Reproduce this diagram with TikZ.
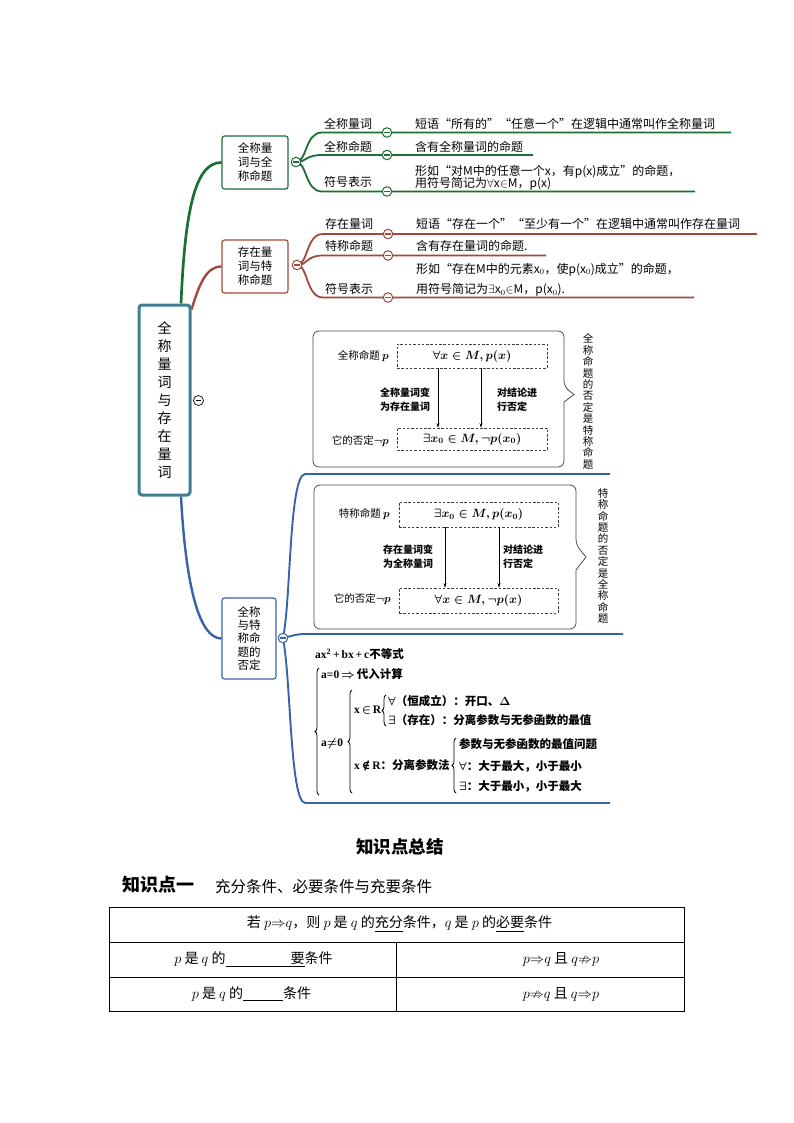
\documentclass[tikz,border=0pt]{standalone}
\usepackage{amsmath,amssymb}
\usepackage{fontspec}
\setmainfont{Noto Sans CJK SC}
\newfontfamily\tnr{Liberation Serif}
\newfontfamily\djv{DejaVu Serif}
\usetikzlibrary{decorations.pathreplacing,arrows.meta}
\pgfdeclarelayer{back}
\pgfdeclarelayer{bg}
\pgfsetlayers{back,bg,main}
\definecolor{gcol}{HTML}{1B6E36}
\definecolor{rcol}{HTML}{A3493B}
\definecolor{bcol}{HTML}{3A62A9}
\definecolor{tcol}{HTML}{3F7E93}
\tikzset{
  cbtn/.style={circle, draw=#1, fill=white, minimum size=9.5pt, inner sep=0pt, line width=1pt,
    path picture={\draw[#1, line width=1.1pt] ([xshift=-2.6pt]path picture bounding box.center) -- ([xshift=2.6pt]path picture bounding box.center);}},
  rootbox/.style={draw=tcol, line width=3pt, rounded corners=3pt, fill=white, align=center, inner sep=0pt, font=\fontsize{14}{18}\selectfont},
  topic/.style={draw=#1, line width=1.2pt, rounded corners=2.5pt, fill=white, align=center, inner sep=0pt, font=\fontsize{11.5}{14}\selectfont},
  lbl/.style={anchor=base west, inner sep=0pt, font=\fontsize{12}{14}\selectfont},
  desc/.style={anchor=base west, inner sep=0pt, font=\fontsize{12}{14}\selectfont},
  gline/.style={draw=gcol, line width=1.8pt},
  rline/.style={draw=rcol, line width=1.8pt},
  bline/.style={draw=bcol, line width=1.9pt},
  frame/.style={draw=black!70, line width=0.8pt},
  dbox/.style={draw=black!75, dash pattern=on 2.5pt off 1.8pt, line width=0.6pt, inner sep=0pt, font=\fontsize{11.5}{13}\selectfont\boldmath},
  blab/.style={inner sep=0pt, font=\fontsize{10.5}{13}\selectfont},
  klab/.style={anchor=west, align=left, inner sep=0pt, font=\bfseries\fontsize{10}{14}\selectfont},
  vtext/.style={align=center, inner sep=0pt, font=\fontsize{10.5}{11.4}\selectfont},
  arr/.style={-{Stealth[length=4.5pt,width=3pt]}, line width=0.6pt},
  ineq/.style={anchor=west, inner sep=0pt, font=\bfseries\fontsize{11.5}{13}\selectfont},
  brc/.style={decorate, decoration={brace, amplitude=4pt}, line width=0.8pt},
  cell/.style={inner sep=0pt, font=\fontsize{14}{16}\selectfont},
}
\begin{document}
\begin{tikzpicture}[x=1pt,y=-1pt]
\useasboundingbox (0,0) rectangle (794,1123);
\begin{pgfonlayer}{back}
\fill[white] (0,0) rectangle (794,1123);
\end{pgfonlayer}

% ---------- root and topics ----------
\node[rootbox, minimum width=51pt, minimum height=190pt] (root) at (164.5,400) {全\\称\\量\\词\\与\\存\\在\\量\\词};
\node[cbtn=black, line width=0.7pt, minimum size=10pt] (rootb) at (198.5,400.5) {};

\node[topic=gcol, minimum width=66pt, minimum height=53pt] (gt) at (255,162.5) {全称量\\词与全\\称命题};
\node[topic=rcol, minimum width=66pt, minimum height=53pt] (rt) at (255,266.5) {存在量\\词与特\\称命题};
\node[topic=bcol, minimum width=54pt, minimum height=81pt, font=\fontsize{11.5}{13.3}\selectfont] (bt) at (249,638.5) {全称\\与特\\称命\\题的\\否定};

\node[cbtn=gcol] (gb) at (296,162) {};
\node[cbtn=rcol] (rb) at (297,265) {};
\node[cbtn=bcol] (bb) at (283,638) {};

\node[cbtn=gcol] (g1b) at (387,132.5) {};
\node[cbtn=gcol] (g2b) at (387,155) {};
\node[cbtn=gcol] (g3b) at (387,191.5) {};
\node[cbtn=rcol] (r1b) at (388,234) {};
\node[cbtn=rcol] (r2b) at (388,255.5) {};
\node[cbtn=rcol] (r3b) at (388,297.5) {};

\coordinate (g1e) at (731,132.5);
\coordinate (g2e) at (533,155);
\coordinate (g3e) at (695,191.5);
\coordinate (r1e) at (757,234);
\coordinate (r2e) at (546,255.5);
\coordinate (r3e) at (694,297.5);
\coordinate (b1e) at (610,474);
\coordinate (b2e) at (623,634);
\coordinate (b3e) at (610,803);

\begin{pgfonlayer}{bg}
\draw[gcol, line width=2.7pt] ([xshift=16.5pt]root.north) .. controls (185,210) and (195,162.5) .. (gt.west);
\draw[rcol, line width=2.4pt] ([yshift=-6pt]root.north east) .. controls (199,285) and (206,266.5) .. (rt.west);
\draw[bcol, line width=2.4pt] ([xshift=16.5pt]root.south) .. controls (186,590) and (200,638.5) .. (bt.west);

\draw[gline] (gb.center) .. controls (307,162) and (305,132.5) .. (322,132.5) -- (g1b.center) -- (g1e);
\draw[gline] (gb.center) .. controls (307,162) and (305,155) .. (322,155) -- (g2b.center) -- (g2e);
\draw[gline] (gb.center) .. controls (307,162) and (305,191.5) .. (322,191.5) -- (g3b.center) -- (g3e);

\draw[rline] (rb.center) .. controls (308,265) and (306,234) .. (323,234) -- (r1b.center) -- (r1e);
\draw[rline] (rb.center) .. controls (308,265) and (306,255.5) .. (323,255.5) -- (r2b.center) -- (r2e);
\draw[rline] (rb.center) .. controls (308,265) and (306,297.5) .. (323,297.5) -- (r3b.center) -- (r3e);

\draw[bline] (bb.center) .. controls (291,600) and (289,476) .. (305,474) -- (b1e);
\draw[bline] (bb.center) .. controls (292,636) and (296,634) .. (305,634) -- (b2e);
\draw[bline] (bb.center) .. controls (291,680) and (290,801) .. (305,803) -- (b3e);
\end{pgfonlayer}

% ---------- green rows ----------
\node[lbl] (g1l) at (324,128.5) {全称量词};
\node[desc] (g1d) at (415,128.5) {短语“所有的”“任意一个”在逻辑中通常叫作全称量词};
\node[lbl] (g2l) at (324,151.5) {全称命题};
\node[desc] (g2d) at (415,151.5) {含有全称量词的命题};
\node[lbl] (g3l) at (324,187) {符号表示};
\node[desc] (g3d) at (415,175.5) {形如“对M中的任意一个x，有p(x)成立”的命题，};
\node[desc] (g3f) at (415,187.5) {用符号简记为$\forall$x$\in$M，p(x)};

% ---------- red rows ----------
\node[lbl] (r1l) at (325,229) {存在量词};
\node[desc] (r1d) at (416,229) {短语“存在一个”“至少有一个”在逻辑中通常叫作存在量词};
\node[lbl] (r2l) at (325,250.5) {特称命题};
\node[desc] (r2d) at (416,250.5) {含有存在量词的命题.};
\node[lbl] (r3l) at (325,293.5) {符号表示};
\node[desc] (r3d) at (416,273) {形如“存在M中的元素x$_0$，使p(x$_0$)成立”的命题，};
\node[desc] (r3f) at (416,293.5) {用符号简记为$\exists$x$_0$$\in$M，p(x$_0$).};

% ---------- box 1 ----------
\draw[frame, rounded corners=6pt] (313,331) -- (564,331) -- (564,387) [sharp corners] -- (574,394.5) -- (564,402) [rounded corners=6pt] -- (564,467) -- (313,467) -- cycle;
\node[dbox, minimum width=150pt, minimum height=24pt] (a1) at (472,356) {$\forall x\in M, p(x)$};
\node[dbox, minimum width=150pt, minimum height=22pt] (a2) at (472,439) {$\exists x_0\in M, \neg p(x_0)$};
\node[blab, anchor=east] (a1l) at (389,356) {全称命题 $\boldsymbol{p}$};
\node[blab, anchor=east] (a2l) at (389,441) {它的否定$\boldsymbol{\neg p}$};
\draw[arr] ([xshift=-34pt]a1.south) -- ([xshift=-34pt]a2.north);
\draw[arr] ([xshift=9pt]a1.south) -- ([xshift=9pt]a2.north);
\node[klab] (a1k) at (380,400) {全称量词变\\为存在量词};
\node[klab] (a1m) at (497,400) {对结论进\\行否定};
\node[vtext] (a1v) at (588,401.5) {全\\称\\命\\题\\的\\否\\定\\是\\特\\称\\命\\题};

% ---------- box 2 ----------
\draw[frame, rounded corners=6pt] (314,485) -- (576,485) -- (576,545) [sharp corners] -- (586,557) -- (576,570) [rounded corners=6pt] -- (576,629) -- (314,629) -- cycle;
\node[dbox, minimum width=159pt, minimum height=25pt] (c1) at (478.5,514.5) {$\exists x_0\in M, p(x_0)$};
\node[dbox, minimum width=159pt, minimum height=25pt] (c2) at (478.5,600.5) {$\forall x\in M, \neg p(x)$};
\node[blab, anchor=east] (c1l) at (390,514) {特称命题 $\boldsymbol{p}$};
\node[blab, anchor=east] (c2l) at (391,599) {它的否定$\boldsymbol{\neg p}$};
\draw[arr] ([xshift=-33.5pt]c1.south) -- ([xshift=-33.5pt]c2.north);
\draw[arr] ([xshift=20.5pt]c1.south) -- ([xshift=20.5pt]c2.north);
\node[klab] (c1k) at (383,557) {存在量词变\\为全称量词};
\node[klab] (c1m) at (503,557) {对结论进\\行否定};
\node[vtext] (c1v) at (603,556) {特\\称\\命\\题\\的\\否\\定\\是\\全\\称\\命\\题};

% ---------- inequality ----------
\node[ineq] (q0) at (315,654) {{\tnr ax\textsuperscript{2}\,+\,bx\,+\,c}不等式};
\draw[brc] (319,795) -- (319,668);
\node[ineq] (q1) at (321,674) {{\tnr a=0}\,{\boldmath$\Rightarrow$}\,代入计算};
\node[ineq] (q2) at (321,743) {{\tnr a}{\boldmath$\neq$}{\tnr 0}};
\draw[brc] (352,793) -- (352,690);
\node[ineq] (q3) at (354,710) {{\tnr x}\,{\boldmath$\in$}\,{\tnr R}};
\draw[brc] (386,726) -- (386,695);
\node[ineq] (q4) at (388,701) {{\boldmath$\forall$}（恒成立）：开口、{\boldmath$\Delta$}};
\node[ineq] (q5) at (388,720) {{\boldmath$\exists$}（存在）：分离参数与无参函数的最值};
\node[ineq] (q6) at (354,765) {{\tnr x}\,{\djv ∉}\,{\tnr R}：分离参数法};
\draw[brc] (456,793) -- (456,738);
\node[ineq] (q7) at (459,744) {参数与无参函数的最值问题};
\node[ineq] (q8) at (459,766) {{\boldmath$\forall$}：大于最大，小于最小};
\node[ineq] (q9) at (459,786) {{\boldmath$\exists$}：大于最小，小于最大};

% ---------- summary ----------
\node[inner sep=0pt, font=\bfseries\fontsize{17.5}{20}\selectfont] (title) at (400,847) {知识点总结};
\node[anchor=west, inner sep=0pt, font=\bfseries\fontsize{18}{20}\selectfont] (k1) at (122,885) {知识点一};
\node[anchor=west, inner sep=0pt, font=\fontsize{15.5}{18}\selectfont] (k1t) at (215,887) {充分条件、必要条件与充要条件};

\draw[line width=0.8pt] (109,907) rectangle (684,1011);
\draw[line width=0.8pt] (109,942) -- (684,942);
\draw[line width=0.8pt] (109,977) -- (684,977);
\draw[line width=0.8pt] (396,942) -- (396,1011);
\node[cell] (t1) at (399.5,924) {若 $p{\Rightarrow}q$，则 $p$ 是 $q$ 的\underline{充分}条件，$q$ 是 $p$ 的\underline{必要}条件};
\node[cell] (t2) at (253.5,959.5) {$p$ 是 $q$ 的\underline{\hspace{65pt}要}条件};
\node[cell] (t3) at (251.5,994) {$p$ 是 $q$ 的\underline{\hspace{40pt}}条件};
\node[cell] (t4) at (561,959.5) {$p{\Rightarrow}q$ 且 $q{\nRightarrow}p$};
\node[cell] (t5) at (561,994) {$p{\nRightarrow}q$ 且 $q{\Rightarrow}p$};
\end{tikzpicture}
\end{document}
